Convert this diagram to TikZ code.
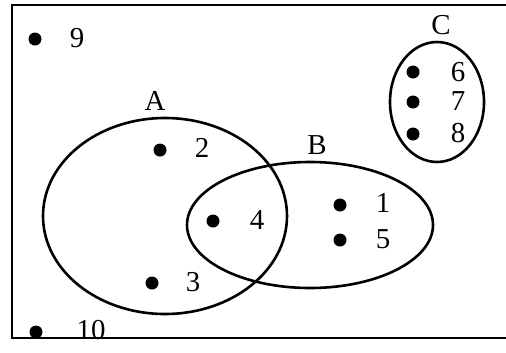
\documentclass[tikz,border=0pt]{standalone}
\usepackage{fontspec}
\setmainfont{Liberation Serif}
\begin{document}
\begin{tikzpicture}[x=1bp,y=-1bp,
  setline/.style={line width=2.6bp},
  pt/.style={circle,fill=black,inner sep=0pt,minimum width=13bp,minimum height=11bp},
  lbl/.style={font=\fontsize{29}{29}\selectfont,inner sep=0pt}]
\useasboundingbox (0,0) rectangle (506,352);
\fill[white] (0,0) rectangle (506,352);
\clip (0,0) rectangle (506,352);
\draw[line width=2.4bp] (12,5) rectangle (530,338);
\draw[setline] (165,216) ellipse [x radius=122, y radius=98];
\draw[setline] (310,225) ellipse [x radius=123, y radius=63];
\draw[setline] (437,102) ellipse [x radius=47, y radius=60];
\node[lbl] (lA) at (155,101) {A};
\node[lbl] (lB) at (317,145) {B};
\node[lbl] (lC) at (441,25) {C};
\node[pt] (p9) at (35,39) {};   \node[lbl] (t9) at (77,38) {9};
\node[pt] (p6) at (413,72) {};  \node[lbl] (t6) at (458,72) {6};
\node[pt] (p7) at (413,102) {}; \node[lbl] (t7) at (458,101) {7};
\node[pt] (p8) at (413,134) {}; \node[lbl] (t8) at (458,133) {8};
\node[pt] (p2) at (160,150) {}; \node[lbl] (t2) at (202,148) {2};
\node[pt] (p4) at (213,221) {}; \node[lbl] (t4) at (257,220) {4};
\node[pt] (p1) at (340,205) {}; \node[lbl] (t1) at (383,203) {1};
\node[pt] (p5) at (340,240) {}; \node[lbl] (t5) at (383,239) {5};
\node[pt] (p3) at (152,283) {}; \node[lbl] (t3) at (193,282) {3};
\node[pt] (p10) at (36,332) {}; \node[lbl] (t10) at (91,330) {10};
\end{tikzpicture}
\end{document}
